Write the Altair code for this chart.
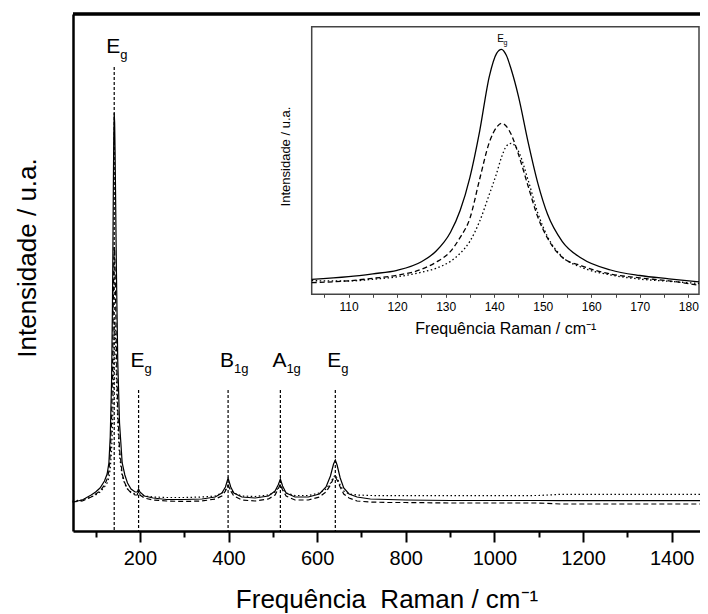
import altair as alt
import pandas as pd

# ---------------- data ----------------
MAIN_X = [48, 70, 90, 100, 110, 120, 126, 130, 133, 136, 138, 139, 140, 141, 142, 143, 144, 145, 147,
          150, 154, 160, 166, 172, 180, 189, 194, 197, 200, 210, 230, 260, 300, 340, 370, 385, 393, 399,
          405, 412, 430, 460, 490, 505, 512, 517, 522, 530, 550, 580, 605, 620, 630, 637, 641, 645, 652,
          660, 672, 690, 720, 760, 800, 900, 1000, 1100, 1150, 1200, 1300, 1400, 1486]
MAIN_SOLID = [-1, 1, 6, 9, 13, 20, 27, 38, 64, 119, 194, 248, 310, 365, 388, 378, 349, 310, 229,
              140, 78, 38, 26, 18, 12, 9, 9, 12, 9, 5, 3, 1.5, 1.5, 2, 4, 8, 14, 23,
              14, 8, 4, 3, 5, 10, 16, 22, 15, 8, 4, 4, 7, 14, 25, 37, 41, 36, 23,
              13, 7, 4, 2, 1.5, 1, 0.5, 0.5, 0.5, 0.3, 0.3, 0.3, 0.3, 0.3]
MAIN_DASHED = [-1, 0, 4, 7, 10, 16, 22, 30, 46, 80, 125, 160, 200, 235, 254, 250, 232, 205, 150,
               92, 52, 27, 18, 12, 8, 6, 6, 8, 6, 3, 1, 0, -0.5, 0, 2, 5, 10, 16,
               10, 5, 1, 0, 2, 6, 12, 17, 11, 5, 1, 1, 4, 9, 16, 23, 24, 21, 14,
               7, 3, 0, -1, -1.5, -1.5, -2, -2, -2, -3, -3, -3, -3, -3]
MAIN_DOTTED = [0, 1, 4, 6, 9, 14, 18, 23, 32, 50, 72, 90, 115, 145, 168, 180, 175, 160, 122,
               78, 45, 25, 17, 12, 9, 7, 7, 9, 7, 5, 4, 3.5, 3.5, 4, 5, 8, 11, 15,
               11, 8, 5, 4.5, 6, 9, 13, 16, 12, 8, 5.5, 5.5, 8, 12, 18, 24, 26, 23, 16,
               10, 7, 6, 5.5, 5.3, 5.3, 5.3, 5.3, 5.5, 6.7, 6.7, 6.7, 6.7, 6.7]

INSET_X = [102.4, 110, 115, 120, 125, 128, 131, 133, 135, 137, 139, 140.5, 141.5, 142.5, 143.5,
           145, 147, 149, 151, 154, 158, 164, 170, 176, 182.2]
INSET_SOLID = [2, 4.6, 7.5, 11, 19.5, 30, 49, 71, 104, 150, 205, 228, 232, 226, 212,
               185, 139, 98, 67, 40, 23, 11.3, 5.8, 2.5, -0.6]
INSET_DASHED = [-1.4, 0.5, 3, 6, 12, 19, 30, 44, 63, 102, 139, 154, 158, 155, 147,
                127, 95, 64, 43, 24, 15.5, 7.3, 3.4, 0.5, -4]
INSET_DOTTED = [0.6, 0.3, 2, 4.5, 9, 13, 20, 28, 40, 60, 87, 108, 124, 135, 138,
                130, 101, 68, 44.6, 24.6, 14, 6.3, 2.2, 0, -2.2]

PEAK_POS = [142, 197, 399, 517, 641]
PEAK_LETTER = ["E", "E", "B", "A", "E"]
PEAK_SUB = ["g", "g", "1g", "1g", "g"]
PEAK_LINE_TOP = [434, 111, 111, 111, 111]
PEAK_LABEL_Y = [448, 134, 134, 134, 134]

INSET_LABEL_X = [141.3]
INSET_LABEL_Y = [239.5]

MAIN_X_DOMAIN = [49, 1464]
MAIN_Y_DOMAIN = [-30, 487]
INSET_X_DOMAIN = [102.4, 182.2]
INSET_Y_DOMAIN = [-13, 254.6]

MAIN_X_TICKS = list(range(100, 1500, 100))
INSET_X_TICKS = list(range(105, 185, 5))

# ---------------- layout ----------------
W, H = 627, 517
FONT = "Liberation Sans"
INSET_RANGE_X = [238.7, 626]
INSET_RANGE_Y = [280.3, 12.7]

df_ms = pd.DataFrame({"x": MAIN_X, "y": MAIN_SOLID})
df_md = pd.DataFrame({"x": MAIN_X, "y": MAIN_DASHED})
df_mo = pd.DataFrame({"x": MAIN_X, "y": MAIN_DOTTED})
df_is = pd.DataFrame({"x": INSET_X, "y": INSET_SOLID})
df_id = pd.DataFrame({"x": INSET_X, "y": INSET_DASHED})
df_io = pd.DataFrame({"x": INSET_X, "y": INSET_DOTTED})
df_peaks = pd.DataFrame({"x": PEAK_POS, "top": PEAK_LINE_TOP, "ly": PEAK_LABEL_Y,
                         "letter": PEAK_LETTER, "sub": PEAK_SUB})
df_ilab = pd.DataFrame({"x": INSET_LABEL_X, "y": INSET_LABEL_Y, "letter": ["E"], "sub": ["g"]})
df_frame = pd.DataFrame({"lo": [INSET_X_DOMAIN[0]], "hi": [INSET_X_DOMAIN[1]],
                         "blo": [INSET_Y_DOMAIN[0]], "bhi": [INSET_Y_DOMAIN[1]]})

mx = alt.X("x:Q", scale=alt.Scale(domain=MAIN_X_DOMAIN, nice=False, zero=False),
           axis=alt.Axis(orient="bottom", title="Frequência\u00a0 Raman / cm\u207b\u00b9",
                         values=MAIN_X_TICKS, format="d",
                         labelExpr="datum.value % 200 === 0 ? datum.label : ''",
                         tickSize={"expr": "datum.value % 200 === 0 ? 11 : 6"},
                         tickWidth=2, tickColor="black", domainWidth=2.5, domainColor="black",
                         labelFontSize=20, labelColor="black", labelPadding=6, labelFont=FONT,
                         titleFontSize=26, titleFont=FONT, titleFontWeight="normal",
                         titleColor="black", titlePadding=18, grid=False))
my = alt.Y("y:Q", scale=alt.Scale(domain=MAIN_Y_DOMAIN, nice=False, zero=False),
           axis=alt.Axis(orient="left", title="Intensidade / u.a.", labels=False, ticks=False,
                         domainWidth=2.5, domainColor="black", grid=False,
                         titleFontSize=26, titleFont=FONT, titleFontWeight="normal",
                         titleColor="black", titlePadding=33, titleY=243.5))

line_s = alt.Chart(df_ms).mark_line(color="black", strokeWidth=1.2).encode(x=mx, y=my)
line_d = alt.Chart(df_md).mark_line(color="black", strokeWidth=1.2, strokeDash=[5, 3]).encode(x="x:Q", y="y:Q")
line_o = alt.Chart(df_mo).mark_line(color="black", strokeWidth=1.2, strokeDash=[1.5, 2.5]).encode(x="x:Q", y="y:Q")

vrules = alt.Chart(df_peaks).mark_rule(color="black", strokeWidth=1.2, strokeDash=[3, 2]).encode(
    x="x:Q", y="top:Q", y2=alt.datum(MAIN_Y_DOMAIN[0]))
letters = alt.Chart(df_peaks).mark_text(font=FONT, fontSize=21, align="center", baseline="alphabetic",
                                        dx=-1, color="black").encode(x="x:Q", y="ly:Q", text="letter:N")
subs = alt.Chart(df_peaks).mark_text(font=FONT, fontSize=13, align="left", baseline="alphabetic",
                                     dx=6, dy=6, color="black").encode(x="x:Q", y="ly:Q", text="sub:N")
top_border = alt.Chart(df_peaks).mark_rule(color="black", strokeWidth=2.5).encode(
    x=alt.value(0), x2=alt.value(W), y=alt.value(0))

main = alt.layer(line_s, line_d, line_o, vrules, letters, subs, top_border)

inset_x_axis = alt.Axis(orient="bottom", offset=INSET_RANGE_Y[0] - H,
                        title="Frequência Raman / cm\u207b\u00b9", values=INSET_X_TICKS,
                        labelExpr="datum.value % 10 === 0 ? datum.label : ''",
                        domain=False, tickSize=3, tickWidth=1, tickColor="#444",
                        labelFontSize=12, labelColor="black", labelPadding=4, labelFont=FONT,
                        titleFontSize=16, titleFont=FONT, titleFontWeight="normal",
                        titleColor="black", titlePadding=8, grid=False)
inset_y_axis = alt.Axis(orient="left", offset=-INSET_RANGE_X[0], title="Intensidade / u.a.",
                        labels=False, ticks=False, domainColor="#444", domainWidth=1.5, grid=False,
                        titleFontSize=13, titleFont=FONT, titleFontWeight="normal",
                        titleColor="black", titlePadding=19, titleY=142)

frame = alt.Chart(df_frame).mark_rect(fill="white", stroke="#444", strokeWidth=1.5).encode(
    x=alt.X("lo:Q", scale=alt.Scale(domain=INSET_X_DOMAIN, range=INSET_RANGE_X, nice=False, zero=False),
            axis=inset_x_axis),
    x2="hi:Q",
    y=alt.Y("blo:Q", scale=alt.Scale(domain=INSET_Y_DOMAIN, range=INSET_RANGE_Y, nice=False, zero=False),
            axis=inset_y_axis),
    y2="bhi:Q",
)

iline_s = alt.Chart(df_is).mark_line(color="black", strokeWidth=1.3, interpolate="monotone").encode(x="x:Q", y="y:Q")
iline_d = alt.Chart(df_id).mark_line(color="black", strokeWidth=1.3, strokeDash=[5, 3],
                                     interpolate="monotone").encode(x="x:Q", y="y:Q")
iline_o = alt.Chart(df_io).mark_line(color="black", strokeWidth=1.3, strokeDash=[1.5, 2.5],
                                     interpolate="monotone").encode(x="x:Q", y="y:Q")
ilet = alt.Chart(df_ilab).mark_text(font=FONT, fontSize=10, align="center", baseline="alphabetic",
                                    color="black").encode(x="x:Q", y="y:Q", text="letter:N")
isub = alt.Chart(df_ilab).mark_text(font=FONT, fontSize=7, align="left", baseline="alphabetic",
                                    dx=3, dy=3, color="black").encode(x="x:Q", y="y:Q", text="sub:N")

inset = alt.layer(frame, iline_s, iline_d, iline_o, ilet, isub)

chart = alt.layer(main, inset).resolve_scale(x="independent", y="independent").properties(
    width=W, height=H,
    autosize=alt.AutoSizeParams(type="none"),
    padding={"left": 65, "top": 6, "right": 0, "bottom": 83},
).configure_view(stroke=None).configure(font=FONT)

chart.save("out.html", embed_options={"renderer": "svg", "actions": False})
